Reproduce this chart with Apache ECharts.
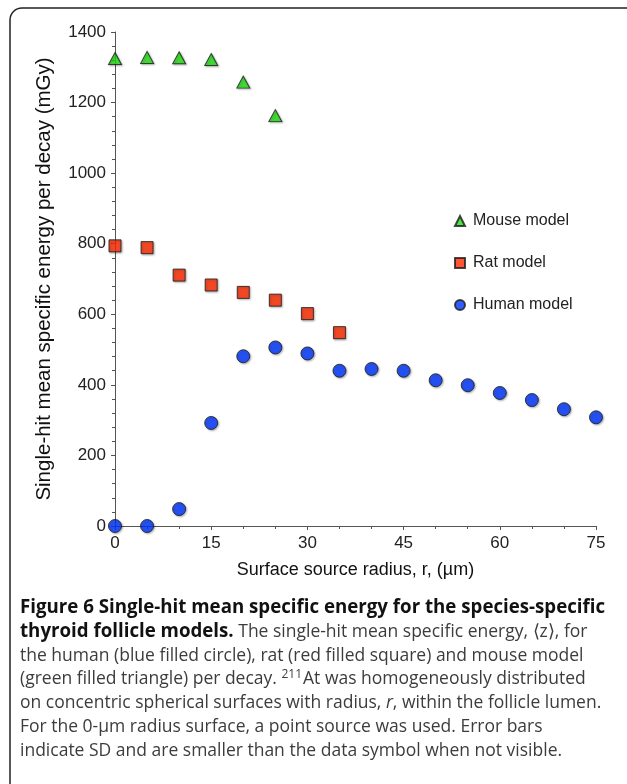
<!DOCTYPE html>
<html>
<head>
<meta charset="utf-8">
<script src="https://cdn.jsdelivr.net/npm/echarts@6/dist/echarts.min.js"></script>
<style>
  html, body { margin: 0; padding: 0; background: #fff; }
  #chart { width: 627px; height: 784px; }
</style>
</head>
<body>
<div id="chart"></div>
<script>
// 数据
const radius = [0, 5, 10, 15, 20, 25, 30, 35, 40, 45, 50, 55, 60, 65, 70, 75];
const mouseValues = [1325, 1328, 1327, 1322, 1258, 1163];
const ratValues = [794, 789, 711, 683, 662, 640, 602, 548];
const humanValues = [0, 0, 48, 292, 481, 506, 489, 440, 445, 440, 413, 399, 377, 357, 331, 308];
const seriesNames = ["Mouse model", "Rat model", "Human model"];

const captionLines = [
  "{b|Figure 6 Single-hit mean specific energy for the species-specific}",
  "{b|thyroid follicle models.}{n| The single-hit mean specific energy, ⟨z⟩, for}",
  "{n|the human (blue filled circle), rat (red filled square) and mouse model}",
  "{n|(green filled triangle) per decay. }{sup|211}{n|At was homogeneously distributed}",
  "{n|on concentric spherical surfaces with radius, }{i|r}{n|, within the follicle lumen.}",
  "{n|For the 0-µm radius surface, a point source was used. Error bars}",
  "{n|indicate SD and are smaller than the data symbol when not visible.}",
];

const pairs = (vals) => vals.map((v, i) => [radius[i], v]);

const chart = echarts.init(document.getElementById("chart"));

const font = "'Liberation Sans', Arial, sans-serif";
const capFont = "'Open Sans', 'Noto Sans', sans-serif";

// 散点样式
const markStyle = (color) => ({
  color: color,
  borderColor: "#1a1a1a",
  borderWidth: 1,
  shadowColor: "rgba(0,0,0,0.35)",
  shadowBlur: 2,
  shadowOffsetX: 1,
  shadowOffsetY: 1,
});

const option = {
  animation: false,
  backgroundColor: "#fff",
  textStyle: { fontFamily: font },
  grid: { left: 115, right: 31, top: 32, bottom: 258 },
  legend: {
    orient: "vertical",
    left: 449,
    top: 208,
    itemWidth: 10,
    itemHeight: 10,
    itemGap: 26,
    data: seriesNames,
    textStyle: { fontSize: 16, color: "#222", fontFamily: font, padding: [0, 0, 0, 3] },
  },
  xAxis: {
    type: "value",
    min: 0,
    max: 75,
    interval: 15,
    name: "Surface source radius, r, (µm)",
    nameLocation: "middle",
    nameGap: 35,
    nameTextStyle: { fontSize: 18, color: "#111", fontFamily: font },
    axisLine: { onZero: false, lineStyle: { color: "#555", width: 1 } },
    axisTick: { length: 4, lineStyle: { color: "#555" } },
    minorTick: { show: true, splitNumber: 3, length: 3, lineStyle: { color: "#555" } },
    axisLabel: { fontSize: 17, color: "#222", margin: 9, fontFamily: font },
    splitLine: { show: false },
  },
  yAxis: {
    type: "value",
    min: 0,
    max: 1400,
    interval: 200,
    name: "Single-hit mean specific energy per decay (mGy)",
    nameLocation: "middle",
    nameGap: 60,
    nameTextStyle: { fontSize: 20.5, color: "#111", fontFamily: font },
    axisLine: { show: true, lineStyle: { color: "#555", width: 1 } },
    axisTick: { show: true, length: 4, lineStyle: { color: "#555" } },
    minorTick: { show: true, splitNumber: 5, length: 3, lineStyle: { color: "#555" } },
    axisLabel: { fontSize: 17, color: "#222", margin: 9, fontFamily: font, formatter: (v) => String(v) },
    splitLine: { show: false },
  },
  series: [
    {
      name: seriesNames[0],
      type: "scatter",
      symbol: "triangle",
      symbolSize: [13, 12],
      data: pairs(mouseValues),
      itemStyle: markStyle("#22e010"),
      z: 3,
    },
    {
      name: seriesNames[1],
      type: "scatter",
      symbol: "rect",
      symbolSize: 12,
      data: pairs(ratValues),
      itemStyle: markStyle("#ff2a00"),
      z: 3,
    },
    {
      name: seriesNames[2],
      type: "scatter",
      symbol: "circle",
      symbolSize: 13,
      data: pairs(humanValues),
      itemStyle: markStyle("#0036ff"),
      z: 4,
    },
  ],
  graphic: [
    // 外框（左上圆角）
    {
      type: "rect",
      shape: { x: 10, y: 8, width: 800, height: 900, r: 12 },
      style: { fill: "none", stroke: "#222", lineWidth: 1.5 },
      silent: true,
    },
  ].concat(
    captionLines.map((line, i) => ({
      type: "text",
      x: 20,
      y: 608 + i * 23.8,
      style: {
        text: line,
        verticalAlign: "middle",
        font: "17.5px " + capFont,
        fill: "#3c3c3c",
        rich: {
          b: { fontFamily: capFont, fontSize: 18.7, fontWeight: "bold", fill: "#111" },
          n: { fontFamily: capFont, fontSize: 17.5, fill: "#3c3c3c" },
          i: { fontFamily: capFont, fontSize: 17.5, fontStyle: "italic", fill: "#3c3c3c" },
          sup: { fontFamily: capFont, fontSize: 12, fill: "#3c3c3c", verticalAlign: "top", padding: [0, 1, 10, 0] },
        },
      },
    }))
  ),
};

chart.setOption(option);
</script>
</body>
</html>
